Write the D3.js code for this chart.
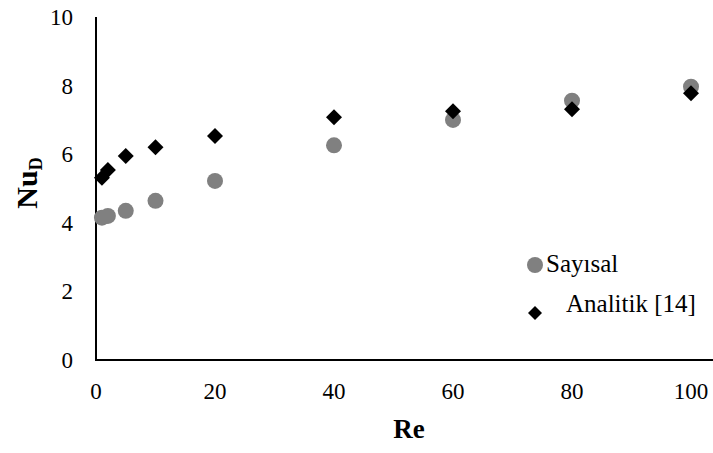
<!DOCTYPE html>
<html>
<head>
<meta charset="utf-8">
<script src="https://cdn.jsdelivr.net/npm/d3@7"></script>
<style>
  html, body { margin: 0; padding: 0; background: #fff; }
  svg { display: block; }
</style>
</head>
<body>
<svg id="chart" width="713" height="453" font-family="'Liberation Serif', 'Times New Roman', Tinos, 'DejaVu Serif', serif"></svg>
<script>
// Data
const reValues = [1, 2, 5, 10, 20, 40, 60, 80, 100];
const sayisal = [4.15, 4.20, 4.35, 4.64, 5.22, 6.26, 7.00, 7.56, 7.97];
const analitik = [5.31, 5.54, 5.95, 6.20, 6.53, 7.08, 7.25, 7.31, 7.78];
const xTicks = [0, 20, 40, 60, 80, 100];
const yTicks = [0, 2, 4, 6, 8, 10];
const seriesNames = ["Sayısal", "Analitik [14]"];

const svg = d3.select("#chart");
const W = 713, H = 453;
const x = d3.scaleLinear().domain([0, 100]).range([96, 691]);
const y = d3.scaleLinear().domain([0, 10]).range([360, 17]);

// Axis lines
svg.append("line")
  .attr("x1", x(0)).attr("x2", W)
  .attr("y1", y(0)).attr("y2", y(0))
  .attr("stroke", "#000").attr("stroke-width", 2);
svg.append("line")
  .attr("x1", x(0)).attr("x2", x(0))
  .attr("y1", y(0) + 1).attr("y2", y(10))
  .attr("stroke", "#000").attr("stroke-width", 2);

// Tick labels
svg.append("g").selectAll("text").data(xTicks).join("text")
  .attr("x", d => x(d)).attr("y", 399)
  .attr("text-anchor", "middle")
  .attr("font-size", 23)
  .text(d => d);
svg.append("g").selectAll("text").data(yTicks).join("text")
  .attr("x", 73).attr("y", d => y(d) + 8)
  .attr("text-anchor", "end")
  .attr("font-size", 23)
  .text(d => d);

// Axis titles
svg.append("text")
  .attr("x", 409).attr("y", 438)
  .attr("text-anchor", "middle")
  .attr("font-size", 27).attr("font-weight", "bold")
  .text("Re");
const yt = svg.append("text")
  .attr("transform", "translate(37,183) rotate(-90)")
  .attr("text-anchor", "middle")
  .attr("font-size", 30).attr("font-weight", "bold");
yt.append("tspan").text("Nu");
yt.append("tspan").attr("font-size", 18).attr("dy", 5).text("D");

// Data points
const data1 = reValues.map((r, i) => ({ r, v: sayisal[i] }));
const data2 = reValues.map((r, i) => ({ r, v: analitik[i] }));

svg.append("g").selectAll("circle").data(data1).join("circle")
  .attr("cx", d => x(d.r)).attr("cy", d => y(d.v))
  .attr("r", 8).attr("fill", "#808080");

svg.append("g").selectAll("path").data(data2).join("path")
  .attr("d", d3.symbol().type(d3.symbolSquare).size(128)())
  .attr("transform", d => `translate(${x(d.r)},${y(d.v)}) rotate(45)`)
  .attr("fill", "#000");

// Legend
const lg = svg.append("g");
lg.append("circle").attr("cx", 535).attr("cy", 265).attr("r", 8).attr("fill", "#808080");
lg.append("text").attr("x", 546).attr("y", 272).attr("font-size", 25).text(seriesNames[0]);
lg.append("path")
  .attr("d", d3.symbol().type(d3.symbolSquare).size(98)())
  .attr("transform", "translate(535,313) rotate(45)")
  .attr("fill", "#000");
lg.append("text").attr("x", 566).attr("y", 312).attr("font-size", 25).text(seriesNames[1]);
</script>
</body>
</html>
